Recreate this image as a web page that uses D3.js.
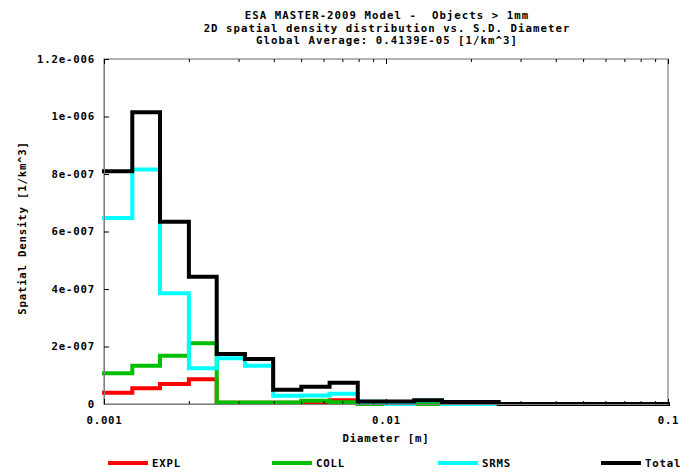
<!DOCTYPE html>
<html>
<head>
<meta charset="utf-8">
<script src="https://cdn.jsdelivr.net/npm/d3@7"></script>
<style>
  html, body { margin: 0; padding: 0; background: #ffffff; }
  svg { display: block; }
  text { font-family: "DejaVu Sans Mono", "Liberation Mono", monospace; font-weight: bold; fill: #000; white-space: pre; }
</style>
</head>
<body>
<svg id="chart" width="693" height="472"></svg>
<script>
// ---- data ----
const titleLines = [
  "ESA MASTER-2009 Model -  Objects > 1mm",
  "2D spatial density distribution vs. S.D. Diameter",
  "Global Average: 0.4139E-05 [1/km^3]"
];
const binEdges = [0.001, 0.00126, 0.00158, 0.002, 0.00251, 0.00316, 0.00398, 0.00501, 0.00631, 0.00794,
                  0.01, 0.0126, 0.0158, 0.02, 0.0251, 0.0316, 0.0398, 0.0501, 0.0631, 0.0794, 0.1];
const seriesNames = ["EXPL", "COLL", "SRMS", "Total"];
const explValues  = [3.9e-8, 5.5e-8, 7.0e-8, 8.6e-8, 4e-9, 4e-9, 4e-9, 6e-9, 1.3e-8, 0, 0, 0, 0, 0, 0, 0, 0, 0, 0, 0];
const collValues  = [1.07e-7, 1.33e-7, 1.68e-7, 2.11e-7, 5e-9, 5e-9, 5e-9, 1.1e-8, 6e-9, 0, 0, 0, 0, 0, 0, 0, 0, 0, 0, 0];
const srmsValues  = [6.47e-7, 8.16e-7, 3.85e-7, 1.24e-7, 1.59e-7, 1.33e-7, 2.9e-8, 3.0e-8, 3.6e-8, 8e-9, 0, 1.2e-8, 0, 0, 0, 0, 0, 0, 0, 0];
const totalValues = [8.1e-7, 1.015e-6, 6.34e-7, 4.43e-7, 1.74e-7, 1.565e-7, 5.0e-8, 6.0e-8, 7.4e-8, 9e-9, 9e-9, 1.3e-8, 7e-9, 7e-9, 0, 0, 0, 0, 0, 0];
const yTickValues = [0, 2e-7, 4e-7, 6e-7, 8e-7, 1e-6, 1.2e-6];
const yTickLabels = ["0", "2e-007", "4e-007", "6e-007", "8e-007", "1e-006", "1.2e-006"];
const xMajorTicks = [0.001, 0.01, 0.1];
const xMajorLabels = ["0.001", "0.01", "0.1"];
const xMinorTicks = [0.002, 0.003, 0.004, 0.005, 0.006, 0.007, 0.008, 0.009,
                     0.02, 0.03, 0.04, 0.05, 0.06, 0.07, 0.08, 0.09];
const xLabel = "Diameter [m]";
const yLabel = "Spatial Density [1/km^3]";

// ---- styles ----
const colors = {EXPL: "#ff0000", COLL: "#00bf00", SRMS: "#00ffff", Total: "#000000"};
const seriesData = {EXPL: explValues, COLL: collValues, SRMS: srmsValues, Total: totalValues};
const FS = "10.7px";
const LS_TITLE = "1.05px";
const LS = "0.8px";

const svg = d3.select("#chart");
const L = 104, R = 668, T = 59, B = 404;

const x = d3.scaleLog().domain([0.001, 0.1]).range([L, R]);
const y = d3.scaleLinear().domain([0, 1.2e-6]).range([B, T]);

// titles
svg.selectAll("text.title").data(titleLines).enter().append("text")
  .attr("class", "title")
  .attr("x", 387).attr("y", (d, i) => 19 + i * 12.6)
  .attr("text-anchor", "middle")
  .attr("xml:space", "preserve")
  .style("font-size", FS)
  .style("letter-spacing", LS_TITLE)
  .text(d => d);

// frame
svg.append("rect").attr("x", L).attr("y", T).attr("width", R - L).attr("height", B - T)
  .attr("fill", "none").attr("stroke", "#7f7f7f").attr("stroke-width", 1.2);

// series (step lines)
const line = d3.line()
  .x(d => x(d[0]))
  .y(d => y(d[1]))
  .curve(d3.curveStepAfter);

seriesNames.forEach(name => {
  const vals = seriesData[name];
  const pts = vals.map((v, i) => [binEdges[i], v]);
  pts.push([binEdges[binEdges.length - 1], vals[vals.length - 1]]);
  svg.append("path").datum(pts)
    .attr("d", line)
    .attr("fill", "none")
    .attr("stroke", colors[name])
    .attr("stroke-width", 4)
    .attr("stroke-linejoin", "miter")
    .attr("stroke-linecap", "square");
});

function styleText(sel) {
  sel.style("font-size", FS).style("letter-spacing", LS)
     .style("font-family", "DejaVu Sans Mono").style("font-weight", "bold");
}

// y axis
const yAxis = d3.axisLeft(y).tickValues(yTickValues)
  .tickFormat((d, i) => yTickLabels[i]).tickSize(-5).tickPadding(9);
const gy = svg.append("g").attr("transform", `translate(${L},0)`).call(yAxis);
gy.select(".domain").attr("stroke", "#7f7f7f");
gy.selectAll(".tick line").attr("stroke", "#000");
styleText(gy.selectAll(".tick text"));

// x axis bottom
const xAxis = d3.axisBottom(x).tickValues(xMajorTicks)
  .tickFormat((d, i) => xMajorLabels[i]).tickSize(-5).tickPadding(12);
const gx = svg.append("g").attr("transform", `translate(0,${B})`).call(xAxis);
gx.select(".domain").attr("stroke", "#7f7f7f");
gx.selectAll(".tick line").attr("stroke", "#000");
styleText(gx.selectAll(".tick text"));

const xMinor = d3.axisBottom(x).tickValues(xMinorTicks).tickFormat("").tickSize(-3);
const gxm = svg.append("g").attr("transform", `translate(0,${B})`).call(xMinor);
gxm.select(".domain").remove();
gxm.selectAll(".tick line").attr("stroke", "#000");

// x axis top (ticks inside)
const xTop = d3.axisTop(x).tickValues(xMajorTicks).tickFormat("").tickSize(-5);
const gxt = svg.append("g").attr("transform", `translate(0,${T})`).call(xTop);
gxt.select(".domain").remove();
gxt.selectAll(".tick line").attr("stroke", "#000");
const xTopMinor = d3.axisTop(x).tickValues(xMinorTicks).tickFormat("").tickSize(-3);
const gxtm = svg.append("g").attr("transform", `translate(0,${T})`).call(xTopMinor);
gxtm.select(".domain").remove();
gxtm.selectAll(".tick line").attr("stroke", "#000");

// axis titles
styleText(svg.append("text").attr("x", 386).attr("y", 441.5).attr("text-anchor", "middle").text(xLabel));
styleText(svg.append("text").attr("transform", "translate(26,228) rotate(-90)").attr("text-anchor", "middle").text(yLabel));

// legend
const legendX = [108, 272, 438, 601];
seriesNames.forEach((name, i) => {
  const g = svg.append("g").attr("transform", `translate(${legendX[i]},463)`);
  g.append("line").attr("x1", 0).attr("x2", 40).attr("y1", 0).attr("y2", 0)
    .attr("stroke", colors[name]).attr("stroke-width", 4);
  styleText(g.append("text").attr("x", 44).attr("y", 4).text(name));
});
</script>
</body>
</html>
